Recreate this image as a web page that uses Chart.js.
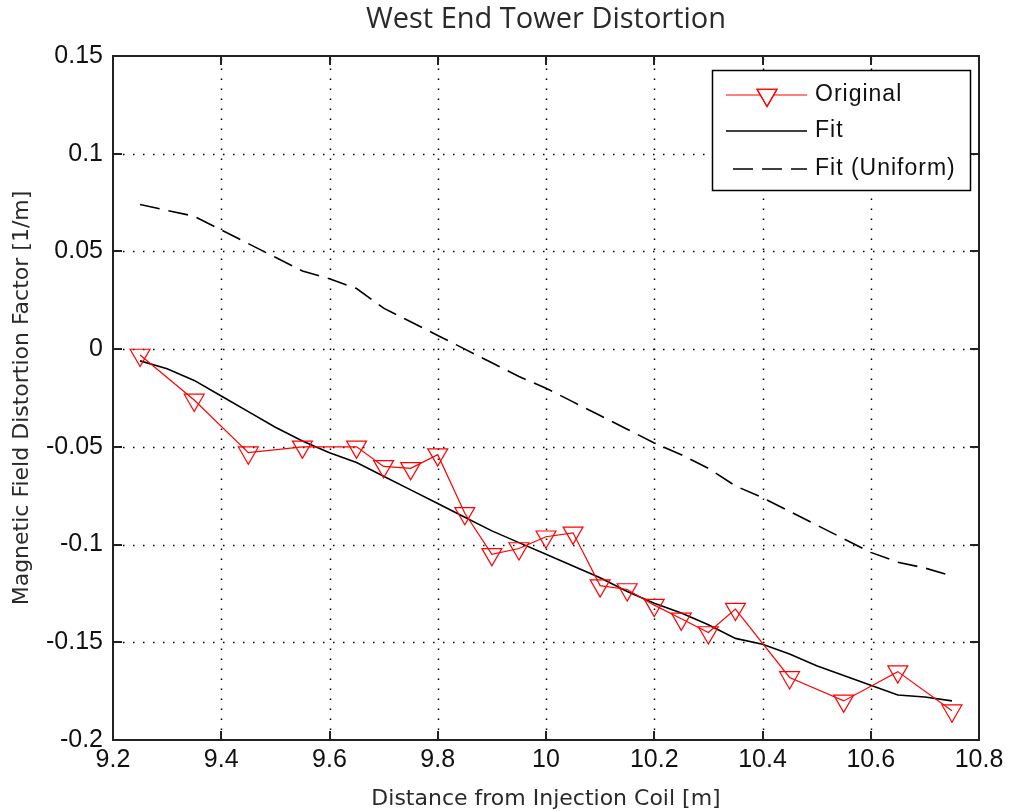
<!DOCTYPE html>
<html>
<head>
<meta charset="utf-8">
<script src="https://cdn.jsdelivr.net/npm/chart.js@4.4.0/dist/chart.umd.min.js"></script>
<style>
  html, body { margin: 0; padding: 0; background: #fff; }
  #wrap { width: 1009px; height: 811px; position: relative; }
</style>
</head>
<body>
<div id="wrap"><canvas id="c"></canvas></div>
<script>
// data
const origX = [9.25, 9.35, 9.45, 9.55, 9.65, 9.70, 9.75, 9.80, 9.85, 9.90, 9.95, 10.00,
               10.05, 10.10, 10.15, 10.20, 10.25, 10.30, 10.35, 10.45, 10.55, 10.65, 10.75];
const origY = [-0.003, -0.026, -0.053, -0.050, -0.050, -0.060, -0.061, -0.054, -0.084, -0.105, -0.102, -0.096,
               -0.094, -0.121, -0.123, -0.131, -0.138, -0.145, -0.133, -0.168, -0.180, -0.165, -0.185];

const fitX = [9.25, 9.30, 9.35, 9.40, 9.45, 9.50, 9.55, 9.60, 9.65, 9.70, 9.75, 9.80, 9.85, 9.90, 9.95, 10.00,
              10.05, 10.10, 10.15, 10.20, 10.25, 10.30, 10.35, 10.40, 10.45, 10.50, 10.55, 10.60, 10.65, 10.70, 10.75];
const fitY = [-0.006, -0.010, -0.016, -0.024, -0.032, -0.040, -0.047, -0.053, -0.058, -0.065, -0.072, -0.079,
              -0.086, -0.093, -0.099, -0.105, -0.111, -0.117, -0.124, -0.130, -0.135, -0.141, -0.148, -0.151,
              -0.156, -0.162, -0.167, -0.172, -0.177, -0.178, -0.180];
const uniY = [0.074, 0.071, 0.068, 0.061, 0.054, 0.047, 0.040, 0.036, 0.031, 0.021, 0.014, 0.007,
              0.000, -0.007, -0.014, -0.020, -0.027, -0.034, -0.041, -0.048, -0.054, -0.061, -0.070, -0.076,
              -0.083, -0.090, -0.097, -0.104, -0.109, -0.112, -0.116];

const xTicks = [9.2, 9.4, 9.6, 9.8, 10, 10.2, 10.4, 10.6, 10.8];
const xTickLabels = ['9.2', '9.4', '9.6', '9.8', '10', '10.2', '10.4', '10.6', '10.8'];
const yTicks = [-0.2, -0.15, -0.1, -0.05, 0, 0.05, 0.1, 0.15];
const yTickLabels = ['-0.2', '-0.15', '-0.1', '-0.05', '0', '0.05', '0.1', '0.15'];

const titleText = 'West End Tower Distortion';
const xTitle = 'Distance from Injection Coil [m]';
const yTitle = 'Magnetic Field Distortion Factor [1/m]';

function pts(xs, ys) {
    return xs.map((x, i) => ({ x: x, y: ys[i] }));
}

const uniDash = [20, 9];

// box, dotted grid, inward ticks, titles, legend
const matlabAxes = {
    id: 'matlabAxes',
    beforeDatasetsDraw(chart) {
        const ctx = chart.ctx;
        const a = chart.chartArea;
        const xs = chart.scales.x, ys = chart.scales.y;
        ctx.save();
        ctx.strokeStyle = '#000';
        ctx.lineWidth = 1.5;
        ctx.setLineDash([1.5, 8.5]);
        xTicks.forEach(v => {
            const px = Math.round(xs.getPixelForValue(v)) + 0.5;
            if (px <= a.left + 2 || px >= a.right - 2) return;
            ctx.beginPath(); ctx.moveTo(px, a.bottom); ctx.lineTo(px, a.top); ctx.stroke();
        });
        yTicks.forEach(v => {
            const py = Math.round(ys.getPixelForValue(v)) + 0.5;
            if (py <= a.top + 2 || py >= a.bottom - 2) return;
            ctx.beginPath(); ctx.moveTo(a.left, py); ctx.lineTo(a.right, py); ctx.stroke();
        });
        ctx.restore();
    },
    afterDraw(chart) {
        const ctx = chart.ctx;
        const a = chart.chartArea;
        const xs = chart.scales.x, ys = chart.scales.y;
        ctx.save();
        ctx.strokeStyle = '#222';
        ctx.lineWidth = 2;
        ctx.setLineDash([]);
        ctx.strokeRect(a.left, a.top, a.right - a.left, a.bottom - a.top);
        const tl = 9;
        xTicks.forEach(v => {
            const px = Math.round(xs.getPixelForValue(v));
            ctx.beginPath();
            ctx.moveTo(px, a.bottom); ctx.lineTo(px, a.bottom - tl);
            ctx.moveTo(px, a.top); ctx.lineTo(px, a.top + tl);
            ctx.stroke();
        });
        yTicks.forEach(v => {
            const py = Math.round(ys.getPixelForValue(v));
            ctx.beginPath();
            ctx.moveTo(a.left, py); ctx.lineTo(a.left + tl, py);
            ctx.moveTo(a.right, py); ctx.lineTo(a.right - tl, py);
            ctx.stroke();
        });

        // titles
        ctx.fillStyle = '#2a2a2a';
        ctx.textAlign = 'center';
        ctx.textBaseline = 'middle';
        ctx.font = '29px "Open Sans"';
        ctx.fillText(titleText, (a.left + a.right) / 2, 20);
        ctx.font = '22px "DejaVu Sans"';
        ctx.fillText(xTitle, (a.left + a.right) / 2, 799);
        ctx.save();
        ctx.translate(22, (a.top + a.bottom) / 2);
        ctx.rotate(-Math.PI / 2);
        ctx.font = '22px "DejaVu Sans"';
        ctx.fillText(yTitle, 0, 0);
        ctx.restore();

        // legend
        const lx = 712, ly = 70, lw = 258, lh = 120;
        ctx.fillStyle = '#fff';
        ctx.fillRect(lx, ly, lw, lh);
        ctx.strokeStyle = '#000';
        ctx.lineWidth = 1.5;
        ctx.strokeRect(lx + 0.5, ly + 0.5, lw, lh);
        const rows = [95, 131, 169];
        chart.data.datasets.forEach((ds, i) => {
            const y = rows[i];
            ctx.strokeStyle = ds.borderColor;
            ctx.lineWidth = ds.borderWidth;
            ctx.setLineDash(ds.borderDash || []);
            ctx.beginPath();
            ctx.moveTo(i === 2 ? 733 : 726, y); ctx.lineTo(807, y);
            ctx.stroke();
            ctx.setLineDash([]);
            if (ds.pointRadius > 0) {
                Chart.helpers.drawPoint(ctx, {
                    pointStyle: ds.pointStyle, rotation: ds.pointRotation,
                    radius: ds.pointRadius, borderWidth: ds.pointBorderWidth
                }, 767, y);
                ctx.strokeStyle = ds.pointBorderColor;
                ctx.stroke();
            }
            ctx.fillStyle = '#111';
            ctx.textAlign = 'left';
            ctx.font = '23px "Liberation Sans"';
            ctx.letterSpacing = '1px';
            ctx.fillText(ds.label, 815, y);
            ctx.letterSpacing = '0px';
        });
        ctx.restore();
    }
};

new Chart(document.getElementById('c'), {
    type: 'scatter',
    data: {
        datasets: [
            {
                label: 'Original',
                data: pts(origX, origY),
                showLine: true,
                borderColor: '#ff0000',
                borderWidth: 1.2,
                pointStyle: 'triangle',
                pointRotation: 180,
                pointRadius: 11.5,
                pointBorderWidth: 1.2,
                pointBorderColor: '#ff0000',
                pointBackgroundColor: 'rgba(0,0,0,0)'
            },
            {
                label: 'Fit',
                data: pts(fitX, fitY),
                showLine: true,
                borderColor: '#000',
                borderWidth: 1.6,
                pointRadius: 0
            },
            {
                label: 'Fit (Uniform)',
                data: pts(fitX, uniY),
                showLine: true,
                borderColor: '#000',
                borderWidth: 1.6,
                borderDash: uniDash,
                pointRadius: 0
            }
        ]
    },
    options: {
        responsive: true,
        maintainAspectRatio: false,
        animation: false,
        layout: { padding: { left: 0, top: 56, right: 30, bottom: 0 } },
        plugins: {
            legend: { display: false },
            title: { display: false },
            tooltip: { enabled: false }
        },
        scales: {
            x: {
                type: 'linear',
                min: 9.2, max: 10.8,
                afterBuildTicks: s => { s.ticks = xTicks.map(v => ({ value: v })); },
                afterFit: s => { s.height = 71; },
                grid: { display: false, drawTicks: false },
                border: { display: false },
                ticks: {
                    padding: 5,
                    color: '#111',
                    font: { family: '"Liberation Sans"', size: 25 },
                    callback: (v) => xTickLabels[xTicks.indexOf(v)] ?? ''
                }
            },
            y: {
                type: 'linear',
                min: -0.2, max: 0.15,
                afterBuildTicks: s => { s.ticks = yTicks.map(v => ({ value: v })); },
                afterFit: s => { s.width = 113; },
                grid: { display: false, drawTicks: false },
                border: { display: false },
                ticks: {
                    padding: 10,
                    color: '#111',
                    font: { family: '"Liberation Sans"', size: 25 },
                    callback: (v) => {
                        const i = yTicks.findIndex(t => Math.abs(t - v) < 1e-9);
                        return i >= 0 ? yTickLabels[i] : '';
                    }
                }
            }
        }
    },
    plugins: [matlabAxes]
});
</script>
</body>
</html>
